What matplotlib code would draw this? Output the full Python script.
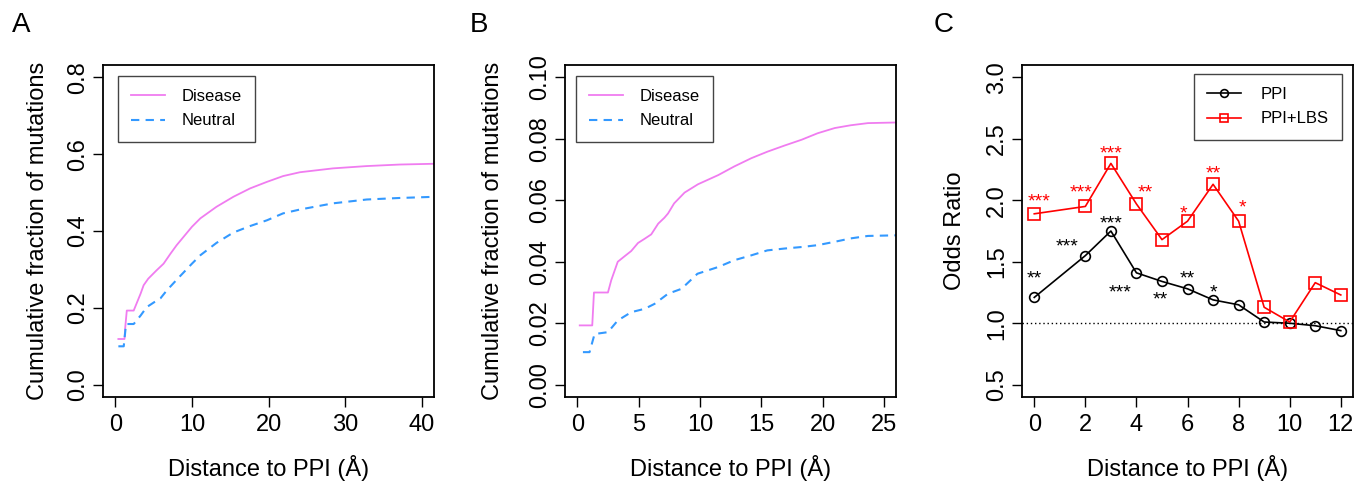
import matplotlib
matplotlib.use("Agg")
import matplotlib.pyplot as plt

plt.rcParams["font.family"] = ["Liberation Sans", "DejaVu Sans"]

# ---------------------------------------------------------------------
# Panel A: cumulative fraction vs distance to PPI (all residues)
# ---------------------------------------------------------------------
a_dis_x = [0.4, 1.2, 1.3, 1.5, 2.4, 3.3, 3.7, 4.3, 5.4, 6.3, 7.2, 8.0, 10.0, 11.1, 13.2,
           15.4, 17.6, 19.8, 21.9, 24.1, 28.4, 32.8, 37.1, 41.6]
a_dis_y = [0.119, 0.119, 0.150, 0.193, 0.193, 0.237, 0.259, 0.276, 0.298, 0.315, 0.341, 0.363,
           0.411, 0.433, 0.463, 0.489, 0.511, 0.528, 0.543, 0.553, 0.563, 0.569, 0.573, 0.575]
a_neu_x = [0.4, 1.1, 1.4, 2.4, 3.3, 4.1, 5.4, 5.9, 6.7, 8.0, 10.0, 11.1, 13.2, 15.4, 17.6,
           19.8, 21.9, 24.1, 28.4, 32.8, 37.1, 41.6]
a_neu_y = [0.100, 0.100, 0.158, 0.158, 0.180, 0.202, 0.219, 0.225, 0.245, 0.273, 0.315, 0.337,
           0.369, 0.396, 0.413, 0.428, 0.446, 0.456, 0.472, 0.482, 0.486, 0.489]

# ---------------------------------------------------------------------
# Panel B: cumulative fraction vs distance to PPI (subset)
# ---------------------------------------------------------------------
b_dis_x = [0.2, 1.22, 1.36, 2.5, 2.77, 3.3, 3.86, 4.4, 4.95, 5.5, 6.03, 6.6, 7.1, 7.4, 7.9,
           8.75, 9.84, 11.5, 12.8, 14.2, 15.5, 16.9, 18.3, 19.6, 21.0, 22.3, 23.7, 26.0]
b_dis_y = [0.0193, 0.0193, 0.0300, 0.0300, 0.0340, 0.0400, 0.0418, 0.0435, 0.0461, 0.0475,
           0.0489, 0.0524, 0.0543, 0.0557, 0.0590, 0.0625, 0.0652, 0.0682, 0.0710, 0.0737,
           0.0758, 0.0778, 0.0797, 0.0818, 0.0835, 0.0844, 0.0851, 0.0853]
b_neu_x = [0.46, 1.0, 1.41, 2.5, 3.3, 4.4, 5.5, 6.3, 7.4, 8.5, 9.8, 11.5, 12.8, 14.2, 15.5,
           16.9, 18.3, 19.6, 21.0, 22.3, 23.7, 26.0]
b_neu_y = [0.0106, 0.0106, 0.0165, 0.0171, 0.0209, 0.0236, 0.0247, 0.0263, 0.0296, 0.0312,
           0.0361, 0.0383, 0.0405, 0.0421, 0.0437, 0.0443, 0.0448, 0.0454, 0.0465, 0.0476,
           0.0484, 0.0486]

# ---------------------------------------------------------------------
# Panel C: odds ratio by distance
# ---------------------------------------------------------------------
c_x = [0, 2, 3, 4, 5, 6, 7, 8, 9, 10, 11, 12]
c_ppi = [1.21, 1.55, 1.75, 1.41, 1.34, 1.28, 1.19, 1.15, 1.01, 1.00, 0.98, 0.94]
c_lbs = [1.89, 1.95, 2.30, 1.97, 1.68, 1.83, 2.13, 1.83, 1.13, 1.01, 1.33, 1.23]

# significance marks: (x, y, label)
ppi_stars = [(0.0, 1.40, "**"), (1.3, 1.66, "***"), (3.0, 1.85, "***"), (3.35, 1.29, "***"),
             (4.95, 1.23, "**"), (6.0, 1.40, "**"), (7.0, 1.29, "*")]
lbs_stars = [(0.17, 2.03, "***"), (1.82, 2.10, "***"), (3.0, 2.42, "***"), (4.35, 2.10, "**"),
             (5.85, 1.93, "*"), (7.0, 2.25, "**"), (8.15, 1.98, "*")]

DISEASE_COL = "#F07CF0"
NEUTRAL_COL = "#3399FF"
TICK_FS = 17
LABEL_FS = 17
LEG_FS = 12


def style_axis(ax):
    for s in ax.spines.values():
        s.set_linewidth(1.3)
    ax.tick_params(direction="out", length=7, width=1, labelsize=TICK_FS)
    ax.tick_params(axis="x", pad=5)
    ax.tick_params(axis="y", pad=3)
    for lab in ax.get_yticklabels():
        lab.set_rotation(90)
        lab.set_va("center")
        lab.set_ha("right")


def place_labels(ax, xlab, ylab, ylab_x):
    ax.set_xlabel(xlab, fontsize=LABEL_FS)
    ax.set_ylabel(ylab, fontsize=LABEL_FS)
    ax.xaxis.label.set_va("center")
    ax.yaxis.label.set_va("center")
    ax.xaxis.set_label_coords(0.5, -0.214)
    ax.yaxis.set_label_coords(ylab_x, 0.5)


def boxed_legend(ax, **kw):
    leg = ax.legend(borderaxespad=0, fontsize=LEG_FS, handlelength=2.0, labelspacing=0.55,
                    borderpad=0.8, fancybox=False, framealpha=1, **kw)
    leg.get_frame().set_edgecolor("#444444")
    leg.get_frame().set_linewidth(1.0)
    return leg


fig = plt.figure(figsize=(13.54, 4.83), dpi=100)
W, H = 0.2445, 0.6874
BOT = 0.178

# ---- A ----
axA = fig.add_axes([0.0761, BOT, W, H])
axA.plot(a_dis_x, a_dis_y, color=DISEASE_COL, lw=1.3, label="Disease")
axA.plot(a_neu_x, a_neu_y, color=NEUTRAL_COL, lw=1.5, ls=(0, (4, 3)), label="Neutral")
axA.set_xlim(-1.6, 41.6)
axA.set_ylim(-0.032, 0.832)
axA.set_xticks([0, 10, 20, 30, 40])
axA.set_yticks([0.0, 0.2, 0.4, 0.6, 0.8])
axA.set_yticklabels(["0.0", "0.2", "0.4", "0.6", "0.8"])
style_axis(axA)
place_labels(axA, "Distance to PPI (Å)", "Cumulative fraction of mutations", -0.195)
boxed_legend(axA, loc="upper left", bbox_to_anchor=(0.045, 0.967), handletextpad=1.0)

# ---- B ----
axB = fig.add_axes([0.4173, BOT, W, H])
axB.plot(b_dis_x, b_dis_y, color=DISEASE_COL, lw=1.3, label="Disease")
axB.plot(b_neu_x, b_neu_y, color=NEUTRAL_COL, lw=1.5, ls=(0, (4, 3)), label="Neutral")
axB.set_xlim(-1.0, 26.0)
axB.set_ylim(-0.004, 0.104)
axB.set_xticks([0, 5, 10, 15, 20, 25])
axB.set_yticks([0.0, 0.02, 0.04, 0.06, 0.08, 0.10])
axB.set_yticklabels(["0.00", "0.02", "0.04", "0.06", "0.08", "0.10"])
style_axis(axB)
place_labels(axB, "Distance to PPI (Å)", "Cumulative fraction of mutations", -0.2175)
boxed_legend(axB, loc="upper left", bbox_to_anchor=(0.033, 0.967), handletextpad=1.0)

# ---- C ----
axC = fig.add_axes([0.7548, BOT, W, H])
axC.axhline(1.0, color="black", lw=1.0, ls=(0, (1, 2)))
axC.plot(c_x, c_ppi, color="black", lw=1.2, marker="o", ms=7, mfc="none", mew=1.2, label="PPI")
axC.plot(c_x, c_lbs, color="#FF0000", lw=1.2, marker="s", ms=8, mfc="none", mew=1.2,
         label="PPI+LBS")
for x, y, s in ppi_stars:
    axC.text(x, y - 0.04, s, color="black", fontsize=14, ha="center", va="center")
for x, y, s in lbs_stars:
    axC.text(x, y - 0.04, s, color="#FF0000", fontsize=14, ha="center", va="center")
axC.set_xlim(-0.48, 12.48)
axC.set_ylim(0.4, 3.1)
axC.set_xticks([0, 2, 4, 6, 8, 10, 12])
axC.set_yticks([0.5, 1.0, 1.5, 2.0, 2.5, 3.0])
axC.set_yticklabels(["0.5", "1.0", "1.5", "2.0", "2.5", "3.0"])
style_axis(axC)
place_labels(axC, "Distance to PPI (Å)", "Odds Ratio", -0.202)
boxed_legend(axC, loc="upper right", bbox_to_anchor=(0.967, 0.973), handletextpad=1.2,
             markerscale=0.8)

# panel letters
fig.text(0.0155, 0.948, "A", fontsize=20, ha="center", va="center")
fig.text(0.354, 0.948, "B", fontsize=20, ha="center", va="center")
fig.text(0.697, 0.948, "C", fontsize=20, ha="center", va="center")

fig.savefig("out.png", dpi=100)
